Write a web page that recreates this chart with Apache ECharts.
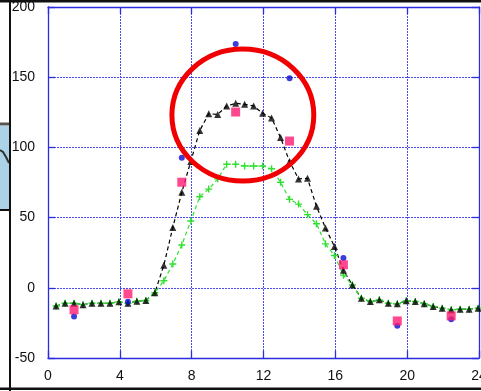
<!DOCTYPE html>
<html>
<head>
<meta charset="utf-8">
<script src="https://cdn.jsdelivr.net/npm/echarts@6/dist/echarts.min.js"></script>
<style>
html,body{margin:0;padding:0;background:#fff;}
#chart{width:481px;height:391px;}
</style>
</head>
<body>
<div id="chart"></div>
<script>
// ---- data ----
const xTicks = [0, 4, 8, 12, 16, 20, 24];
const yTicks = [-50, 0, 50, 100, 150, 200];

const xSeries = [0.45,0.95,1.45,1.95,2.45,2.95,3.45,3.95,4.45,4.95,5.45,5.95,
  6.45,6.95,7.45,7.95,8.45,8.95,9.45,9.95,10.45,10.95,11.45,11.95,
  12.45,12.95,13.45,13.95,14.45,14.95,15.45,15.95,16.45,16.95,17.45,17.95,
  18.45,18.95,19.45,19.95,20.45,20.95,21.45,21.95,22.45,22.95,23.45,23.95];

const blackValues = [-13,-11,-11,-12,-11,-11,-11,-10,-11,-9.5,-9,-3.5,
  16,43,68,90,112,124,123.5,129.5,131.4,130.7,129.5,124.3,
  121,107,90,77.5,78,58,42.6,29.5,12.5,2,-7.4,-9.8,
  -8.6,-11,-11.4,-9.3,-9.8,-11.4,-13.3,-14.5,-15.7,-15.2,-15.2,-14.5];

const greenValues = [-13,-11,-11,-12,-11,-11,-11,-10,-11,-9.5,-9,-3.5,
  5,17,30.5,47.6,64.8,70.3,77.6,88,88,86.7,86.7,86.8,
  84.8,75.2,63,59.6,52.1,45.6,31.3,23,9,2,-7.4,-9.8,
  -8.6,-11,-11.4,-9.3,-9.8,-11.4,-13.3,-14.5,-15.7,-15.2,-15.2,-14.5];

const xSampled = [1.45, 4.45, 7.45, 10.45, 13.45, 16.45, 19.45, 22.45];
const blueValues = [-20.5, -10, 92.6, 173.6, 149.3, 21.2, -27, -22.4];
const pinkValues = [-15.7, -4.3, 75.2, 125.2, 104.5, 16.4, -23.6, -20];

// annotation ellipse (data units): centre and radii
const ellipseCenter = [10.85, 123];
const ellipseRadii = [3.95, 47];

// ---- chart ----
const pair = (xs, ys) => xs.map((x, i) => [x, ys[i]]);
const AX = '#2b2bdf';
const GRID = '#4a4af0';
const plusPath = 'path://M4,0H6V4H10V6H6V10H4V6H0V4H4Z';

const chart = echarts.init(document.getElementById('chart'), null, {renderer: 'canvas'});

const commonLabel = {color: '#111', fontSize: 14, fontFamily: 'Liberation Sans, Arial, sans-serif'};

const option = {
  animation: false,
  backgroundColor: '#fff',
  grid: {left: 48, right: 2, top: 7, bottom: 33, containLabel: false, outerBoundsMode: 'none'},
  xAxis: [{
    type: 'value', min: xTicks[0], max: xTicks[xTicks.length - 1], interval: 4,
    axisLine: {show: true, onZero: false, lineStyle: {color: AX, width: 1.3}},
    axisTick: {show: true, inside: true, length: 7, lineStyle: {color: AX, width: 1.3}},
    axisLabel: Object.assign({margin: 11, showMinLabel: true, showMaxLabel: true, hideOverlap: false}, commonLabel),
    splitLine: {show: true, lineStyle: {color: GRID, type: [2, 1], width: 1}}
  }, {
    type: 'value', position: 'top', min: xTicks[0], max: xTicks[xTicks.length - 1], interval: 4,
    axisLine: {show: true, onZero: false, lineStyle: {color: AX, width: 1.3}},
    axisTick: {show: true, inside: true, length: 7, lineStyle: {color: AX, width: 1.3}},
    axisLabel: {show: false}, splitLine: {show: false}
  }],
  yAxis: [{
    type: 'value', min: yTicks[0], max: yTicks[yTicks.length - 1], interval: 50,
    axisLine: {show: true, onZero: false, lineStyle: {color: AX, width: 1.3}},
    axisTick: {show: true, inside: true, length: 7, lineStyle: {color: AX, width: 1.3}},
    axisLabel: Object.assign({margin: 13, showMinLabel: true, showMaxLabel: true, hideOverlap: false}, commonLabel),
    splitLine: {show: true, lineStyle: {color: GRID, type: [2, 1], width: 1}}
  }, {
    type: 'value', position: 'right', min: yTicks[0], max: yTicks[yTicks.length - 1], interval: 50,
    axisLine: {show: true, onZero: false, lineStyle: {color: AX, width: 1.3}},
    axisTick: {show: true, inside: true, length: 7, lineStyle: {color: AX, width: 1.3}},
    axisLabel: {show: false}, splitLine: {show: false}
  }],
  series: [
    {
      name: 'black-line', type: 'line', data: pair(xSeries, blackValues),
      showSymbol: false, symbol: 'none',
      lineStyle: {color: '#000', width: 1.2, type: [4, 3]}, z: 2
    },
    {
      name: 'green', type: 'line', data: pair(xSeries, greenValues),
      symbol: plusPath, symbolSize: 7,
      itemStyle: {color: '#2fe02f'},
      lineStyle: {color: '#2fe02f', width: 1.2, type: [4, 3]}, z: 3
    },
    {
      name: 'black-marks', type: 'scatter', data: pair(xSeries, blackValues),
      symbol: 'triangle', symbolSize: 7,
      itemStyle: {color: '#000'}, z: 4
    },
    {
      name: 'blue', type: 'scatter', data: pair(xSampled, blueValues),
      symbol: 'circle', symbolSize: 6,
      itemStyle: {color: '#0b0bd0'}, z: 5
    },
    {
      name: 'pink', type: 'scatter', data: pair(xSampled, pinkValues),
      symbol: 'rect', symbolSize: 9,
      itemStyle: {color: '#ff1a70'}, z: 6
    }
  ]
};
chart.setOption(option);

// annotation ellipse positioned through the chart's own scales
const c = chart.convertToPixel({gridIndex: 0}, ellipseCenter);
const e = chart.convertToPixel({gridIndex: 0}, [ellipseCenter[0] + ellipseRadii[0], ellipseCenter[1] + ellipseRadii[1]]);
const rx = Math.abs(e[0] - c[0]);
const ry = Math.abs(c[1] - e[1]);

chart.setOption({
  graphic: [
    {type: 'ellipse', shape: {cx: c[0], cy: c[1], rx: rx, ry: ry},
      style: {fill: 'none', stroke: '#f00000', lineWidth: 5}, z: 100},
    // surrounding screenshot frame pieces
    {type: 'rect', shape: {x: 0, y: 126, width: 9, height: 84}, style: {fill: '#acd2e8'}, z: 90},
    {type: 'rect', shape: {x: 0, y: 122.5, width: 9, height: 3}, style: {fill: '#555'}, z: 91},
    {type: 'polyline', shape: {points: [[0, 150], [3, 152], [6, 157], [9, 163]]}, style: {stroke: '#333', lineWidth: 2, fill: 'none'}, z: 91},
    {type: 'rect', shape: {x: 0, y: 209, width: 11, height: 2}, style: {fill: '#111'}, z: 92},
    {type: 'rect', shape: {x: 9, y: 0, width: 2, height: 391}, style: {fill: '#111'}, z: 92},
    {type: 'rect', shape: {x: 0, y: 0, width: 481, height: 2.5}, style: {fill: '#111'}, z: 92},
    {type: 'rect', shape: {x: 0, y: 387.5, width: 481, height: 2.5}, style: {fill: '#111'}, z: 92}
  ]
});
</script>
</body>
</html>
